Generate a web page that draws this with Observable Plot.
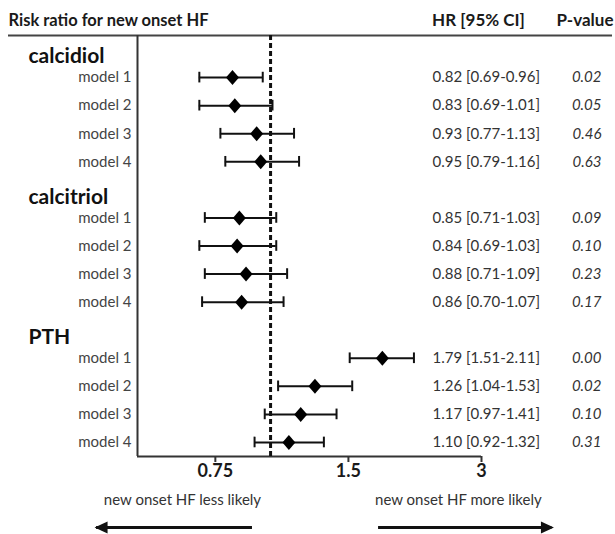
<!DOCTYPE html>
<html>
<head>
<meta charset="utf-8">
<script src="https://cdn.jsdelivr.net/npm/d3@7"></script>
<script src="https://cdn.jsdelivr.net/npm/@observablehq/plot@0.6"></script>
<style>
  html, body { margin: 0; padding: 0; background: #fff; }
  svg { display: block; }
</style>
</head>
<body>
<div id="chart"></div>
<script>
// ---- data ----
const groups = ["calcidiol", "calcitriol", "PTH"];
const models = ["model 1", "model 2", "model 3", "model 4"];
const hr    = [0.82, 0.83, 0.93, 0.95,  0.85, 0.84, 0.88, 0.86,  1.79, 1.26, 1.17, 1.10];
const lower = [0.69, 0.69, 0.77, 0.79,  0.71, 0.69, 0.71, 0.70,  1.51, 1.04, 0.97, 0.92];
const upper = [0.96, 1.01, 1.13, 1.16,  1.03, 1.03, 1.09, 1.07,  2.11, 1.53, 1.41, 1.32];
const pvals = ["0.02", "0.05", "0.46", "0.63", "0.09", "0.10", "0.23", "0.17", "0.00", "0.02", "0.10", "0.31"];
const xTicks = [0.75, 1.5, 3];
const xTickLabels = ["0.75", "1.5", "3"];
const headers = ["Risk ratio for new onset HF", "HR [95% CI]", "P-value"];
const directionLabels = ["new onset HF less likely", "new onset HF more likely"];
const directionTextX = [0.632, 2.66];
const directionFrom = [0.91, 1.755];
const directionTo = [0.404, 4.33];
const nullValue = 1;

// ---- derived tables ----
const xDomain = [0.5, 3];
const yDomain = [-0.5, 14.5];
const headings = groups.map((g, i) => ({name: g, slot: i * 5}));
const rows = [];
groups.forEach((g, gi) => models.forEach((m, mi) => {
  const k = gi * 4 + mi;
  rows.push({
    group: g, model: m, slot: gi * 5 + 1 + mi,
    hr: hr[k], lo: lower[k], hi: upper[k],
    label: `${hr[k].toFixed(2)} [${lower[k].toFixed(2)}-${upper[k].toFixed(2)}]`,
    p: pvals[k]
  });
}));
const directions = directionLabels.map((label, i) => ({
  label, tx: directionTextX[i], from: directionFrom[i], to: directionTo[i], dir: i === 0 ? "left" : "right"
}));
const ticks = xTicks.map((v, i) => ({v, label: xTickLabels[i]}));

// ---- custom symbols ----
const diamond = {draw(ctx) { ctx.moveTo(0, -7.5); ctx.lineTo(6.5, 0); ctx.lineTo(0, 7.5); ctx.lineTo(-6.5, 0); ctx.closePath(); }};
const headLeft = {draw(ctx) { ctx.moveTo(-2, 0); ctx.lineTo(11, -6); ctx.lineTo(11, 6); ctx.closePath(); }};
const headRight = {draw(ctx) { ctx.moveTo(2, 0); ctx.lineTo(-11, -6); ctx.lineTo(-11, 6); ctx.closePath(); }};

const W = 615, H = 534;
const mL = 137, mR = 134, mT = 35, mB = 78;
const yBottom = () => yDomain[1];
const ink = "#1a1a1a";
const soft = "#333";

const chart = Plot.plot({
  width: W, height: H,
  marginLeft: mL, marginRight: mR, marginTop: mT, marginBottom: mB,
  style: {fontFamily: "Lato, 'Open Sans', sans-serif", background: "#fff", overflow: "visible", color: ink},
  x: {type: "log", domain: xDomain, axis: null},
  y: {type: "linear", domain: yDomain, reverse: true, axis: null},
  marks: [
    // header line
    Plot.ruleY([yDomain[0]], {stroke: "#444", strokeWidth: 2, insetLeft: -129, insetRight: -131}),
    // headers
    Plot.text([headers[0]], {frameAnchor: "top-left", dx: -129, dy: -15, textAnchor: "start", lineAnchor: "middle", fontWeight: "bold", fontSize: 16.5, fill: ink}),
    Plot.text([headers[1]], {frameAnchor: "top-right", dx: -3, dy: -15, textAnchor: "middle", lineAnchor: "middle", fontWeight: "bold", fontSize: 17, fill: ink}),
    Plot.text([headers[2]], {frameAnchor: "top-right", dx: 132, dy: -15, textAnchor: "end", lineAnchor: "middle", fontWeight: "bold", fontSize: 17, fill: ink}),
    // frame: left and bottom axis lines
    Plot.ruleX([xDomain[0]], {stroke: "#333", strokeWidth: 2}),
    Plot.ruleY([yDomain[1]], {stroke: "#333", strokeWidth: 2}),
    // x ticks and labels
    Plot.tickX(ticks, {x: "v", stroke: "#333", strokeWidth: 2, insetTop: H - mT - mB, insetBottom: -6}),
    Plot.text(ticks, {x: "v", text: "label", frameAnchor: "bottom", dy: 20, fontWeight: "bold", fontSize: 18, fill: ink}),
    // null line
    Plot.ruleX([nullValue], {stroke: "#111", strokeWidth: 3, strokeDasharray: "5,3"}),
    // group headings
    Plot.text(headings, {y: "slot", text: "name", frameAnchor: "left", dx: -109, dy: 7, textAnchor: "start", fontWeight: "bold", fontSize: 21, fill: "#111"}),
    // row labels
    Plot.text(rows, {y: "slot", text: "model", frameAnchor: "left", dx: -6, textAnchor: "end", fontSize: 15, fill: "#444"}),
    // CI lines and caps
    Plot.ruleY(rows, {y: "slot", x1: "lo", x2: "hi", stroke: "#111", strokeWidth: 2}),
    Plot.ruleX(rows, {x: "lo", y1: d => d.slot - 0.19, y2: d => d.slot + 0.19, stroke: "#111", strokeWidth: 2}),
    Plot.ruleX(rows, {x: "hi", y1: d => d.slot - 0.19, y2: d => d.slot + 0.19, stroke: "#111", strokeWidth: 2}),
    // point estimates
    Plot.dot(rows, {x: "hr", y: "slot", symbol: diamond, fill: "#000", stroke: "none"}),
    // HR text and p-values
    Plot.text(rows, {y: "slot", text: "label", frameAnchor: "right", dx: -49, textAnchor: "start", fontSize: 15, fill: soft}),
    Plot.text(rows, {y: "slot", text: "p", frameAnchor: "right", dx: 120, textAnchor: "end", fontSize: 15, fontStyle: "italic", fill: soft}),
    // direction annotations
    Plot.text(directions, {x: "tx", text: "label", frameAnchor: "bottom", dy: 48, fontSize: 15, fill: soft}),
    Plot.ruleY(directions, {y: yBottom, x1: "from", x2: "to", dy: 71, stroke: "#111", strokeWidth: 3}),
    Plot.dot(directions.filter(d => d.dir === "left"), {x: "to", y: yBottom, dy: 71, symbol: headLeft, fill: "#111", stroke: "none"}),
    Plot.dot(directions.filter(d => d.dir === "right"), {x: "to", y: yBottom, dy: 71, symbol: headRight, fill: "#111", stroke: "none"})
  ]
});
document.getElementById("chart").appendChild(chart);
</script>
</body>
</html>
